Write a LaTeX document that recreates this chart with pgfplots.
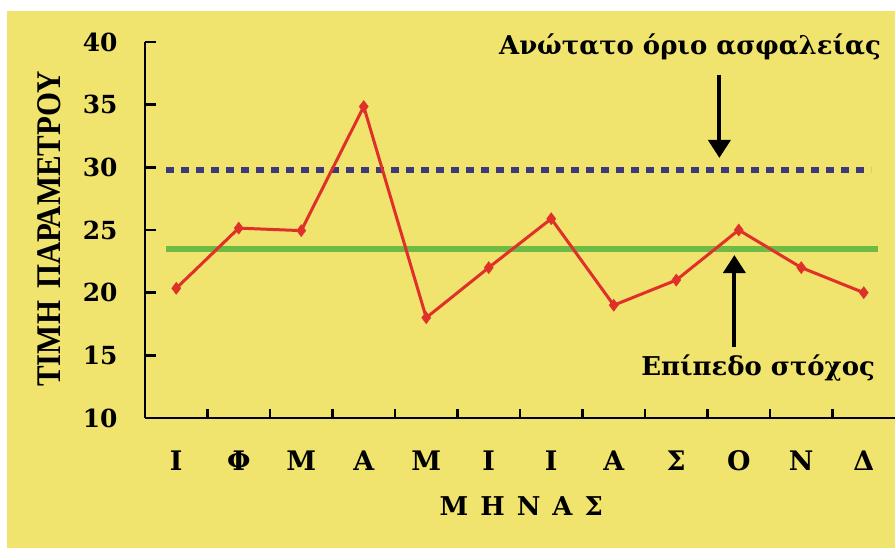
\documentclass[border=0pt]{standalone}
\usepackage{fontspec}
\setmainfont{Liberation Serif}
\newfontfamily\dvs{DejaVu Serif}
\usepackage{pgfplots}
\pgfplotsset{compat=1.18}
\usetikzlibrary{arrows.meta}
\definecolor{bg}{HTML}{F0E36E}
\definecolor{navy}{HTML}{3E3A7A}
\definecolor{grn}{HTML}{6DBB45}
\definecolor{redl}{HTML}{E0302A}
\pgfplotstableread{
x y
0 20.35
1 25.15
2 24.95
3 34.85
4 18.0
5 22.0
6 25.9
7 19.0
8 21.0
9 25.0
10 22.0
11 20.0
}\param
\begin{document}
\begin{tikzpicture}
\path[use as bounding box] (-145bp,-130bp) rectangle (750bp,418bp);
\fill[white] (-145bp,-130bp) rectangle (750bp,418bp);
\fill[bg] (-138bp,-130bp) rectangle (750bp,407bp);
\begin{axis}[
  scale only axis, width=750bp, height=376bp,
  xmin=-0.5, xmax=11.5, ymin=10, ymax=40,
  clip=false,
  axis lines=left,
  axis line style={line width=2.8bp, black, -},
  every outer x axis line/.append style={-},
  every outer y axis line/.append style={-},
  every inner x axis line/.append style={-},
  every inner y axis line/.append style={-},
  tick align=inside,
  ytick={10,15,...,40},
  xtick={0,...,11},
  xticklabels={Ι,Φ,Μ,Α,Μ,Ι,Ι,Α,Σ,Ο,Ν,Δ},
  minor xtick={0.5,1.5,...,10.5},
  major x tick style={draw=none},
  tick style={line width=2.8bp, black},
  major tick length=11bp, minor tick length=9bp,
  /pgf/number format/assume math mode=true,
  yticklabel style={font=\dvs\fontsize{25}{27}\selectfont\bfseries, xshift=-24bp},
  xticklabel style={font=\dvs\fontsize{27}{29}\selectfont\bfseries, text height=18bp, text depth=0bp, yshift=-31bp},
]
\addplot[navy, line width=6bp, dash pattern=on 8bp off 7bp, forget plot] coordinates {(-0.16,29.75) (11.12,29.75)};
\addplot[grn, line width=6bp, forget plot] coordinates {(-0.16,23.5) (11.23,23.5)};
\addplot[redl, line width=3bp, mark=diamond*, mark size=6bp, mark options={fill=redl, draw=redl, line width=0.5bp}] table[x=x,y=y] {\param};
\draw[line width=4bp, -{Triangle[length=18bp,width=22bp]}] (axis cs:8.69,37.4) -- (axis cs:8.69,30.75);
\draw[line width=4bp, -{Triangle[length=18bp,width=22bp]}] (axis cs:8.93,15.67) -- (axis cs:8.93,23.0);
\node[anchor=base, font=\dvs\fontsize{26}{28}\selectfont\bfseries] at (axis cs:8.22,38.97) {Ανώτατο όριο ασφαλείας};
\node[anchor=base, font=\dvs\fontsize{26}{28}\selectfont\bfseries] at (axis cs:9.31,13.43) {Επίπεδο στόχος};
\node[rotate=90, font=\fontsize{31}{31}\selectfont\bfseries] at (axis cs:-2.03,25.08) {\scalebox{1}[1.12]{ΤΙΜΗ\hspace{12bp}ΠΑΡΑΜΕΤΡΟΥ}};
\node[anchor=base, font=\dvs\fontsize{26}{28}\selectfont\bfseries] at (axis cs:5.52,2.26) {Μ\hspace{12bp}Η\hspace{12bp}Ν\hspace{12bp}Α\hspace{12bp}Σ};
\end{axis}
\end{tikzpicture}
\end{document}
